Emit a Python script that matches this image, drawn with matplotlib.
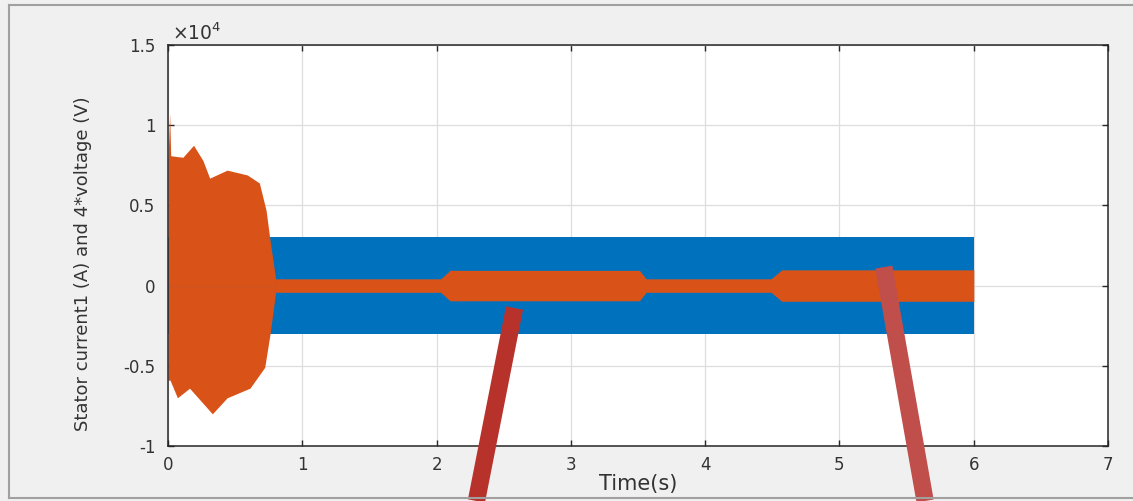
import matplotlib
matplotlib.use('Agg')
import matplotlib.pyplot as plt
from matplotlib.ticker import FuncFormatter, MultipleLocator
from matplotlib.lines import Line2D
import numpy as np

# ======================
# DATA
# ======================
# start-up transient of the voltage trace (4*voltage), envelope points
transient_t_up = [0.0, 0.012, 0.02, 0.11, 0.19, 0.26, 0.31, 0.44, 0.59, 0.68, 0.73, 0.76, 0.80]
transient_up = [7800, 10750, 8100, 8000, 8750, 7800, 6700, 7200, 6900, 6400, 4700, 2800, 500]
transient_t_lo = [0.0, 0.015, 0.07, 0.16, 0.33, 0.44, 0.61, 0.72, 0.76, 0.80]
transient_lo = [-5900, -5900, -7000, -6400, -8000, -7000, -6400, -5100, -3000, -500]

# steady state voltage band (half width)
volt_t = [0.80, 2.03, 2.10, 3.51, 3.56, 4.49, 4.57, 6.00]
volt_amp = [420, 420, 950, 950, 420, 420, 980, 980]

# stator current band (half width)
curr_t = [0.0, 6.0]
curr_amp = [3000, 3000]

# annotation targets (data coords) -> where the red markers point
marker_targets = [(2.58, -1400), (5.33, 1150)]
marker_bases = [(0.4205, 0.0), (0.8165, 0.0)]  # figure fraction
marker_colors = ['#B8322C', '#C04E4B']

BLUE = '#0072BD'
ORANGE = '#D95319'
TXT = '#333333'

# ======================
# FIGURE
# ======================
plt.rcParams['font.family'] = ['DejaVu Sans']
fig = plt.figure(figsize=(11.33, 5.01), dpi=100)
fig.patch.set_facecolor('#f0f0f0')

ax = fig.add_axes([0.1483, 0.110, 0.8297, 0.800])
ax.set_facecolor('white')

# current (blue) first, voltage (orange) on top
ct = np.array(curr_t)
ca = np.array(curr_amp)
ax.fill_between(ct, -ca, ca, color=BLUE, lw=0)

ax.fill_between(transient_t_up, 0, transient_up, color=ORANGE, lw=0)
ax.fill_between(transient_t_lo, transient_lo, 0, color=ORANGE, lw=0)

vt = np.array(volt_t)
va = np.array(volt_amp)
ax.fill_between(vt, -va, va, color=ORANGE, lw=0)

# axes styling, MATLAB look
ax.set_xlim(0, 7)
ax.set_ylim(-10000, 15000)
ax.xaxis.set_major_locator(MultipleLocator(1))
ax.yaxis.set_major_locator(MultipleLocator(5000))
ax.yaxis.set_major_formatter(FuncFormatter(lambda v, p: '%g' % (v / 1e4)))
ax.grid(True, color='#dedede', lw=0.9)
ax.set_axisbelow(True)
ax.tick_params(direction='in', length=4, width=1, colors='#262626',
               labelcolor=TXT, labelsize=12, top=True, right=True)
ax.tick_params(axis='y', pad=9)
ax.tick_params(axis='x', pad=7)
for s in ax.spines.values():
    s.set_color('#262626')
    s.set_linewidth(1.1)

ax.text(0.004, 1.002, r'$\times\mathregular{10^4}$', transform=ax.transAxes,
        fontsize=13.5, color=TXT, ha='left', va='bottom')

ax.set_xlabel('Time(s)', fontsize=15, color=TXT, labelpad=0)
ax.set_ylabel('Stator current1 (A) and 4*voltage (V)', fontsize=13, color=TXT)
ax.yaxis.set_label_coords(-0.081, 0.455)

# red marker strokes pointing at the voltage band
for (tx, ty), (bx, by), c in zip(marker_targets, marker_bases, marker_colors):
    ax.annotate('', xy=(tx, ty), xycoords='data', xytext=(bx, by),
                textcoords='figure fraction', annotation_clip=False,
                arrowprops=dict(arrowstyle='-', lw=12.5, color=c,
                                shrinkA=0, shrinkB=0, capstyle='butt'))

# window frame bits
frame_kw = dict(color='#a0a0a0', lw=1.5, transform=fig.transFigure)
fig.add_artist(Line2D([0.008, 1.0], [0.990, 0.990], **frame_kw))
fig.add_artist(Line2D([0.008, 0.008], [0.006, 0.990], **frame_kw))
fig.add_artist(Line2D([0.008, 1.0], [0.006, 0.006], **frame_kw))

fig.savefig('out.png', dpi=100, facecolor=fig.get_facecolor())
